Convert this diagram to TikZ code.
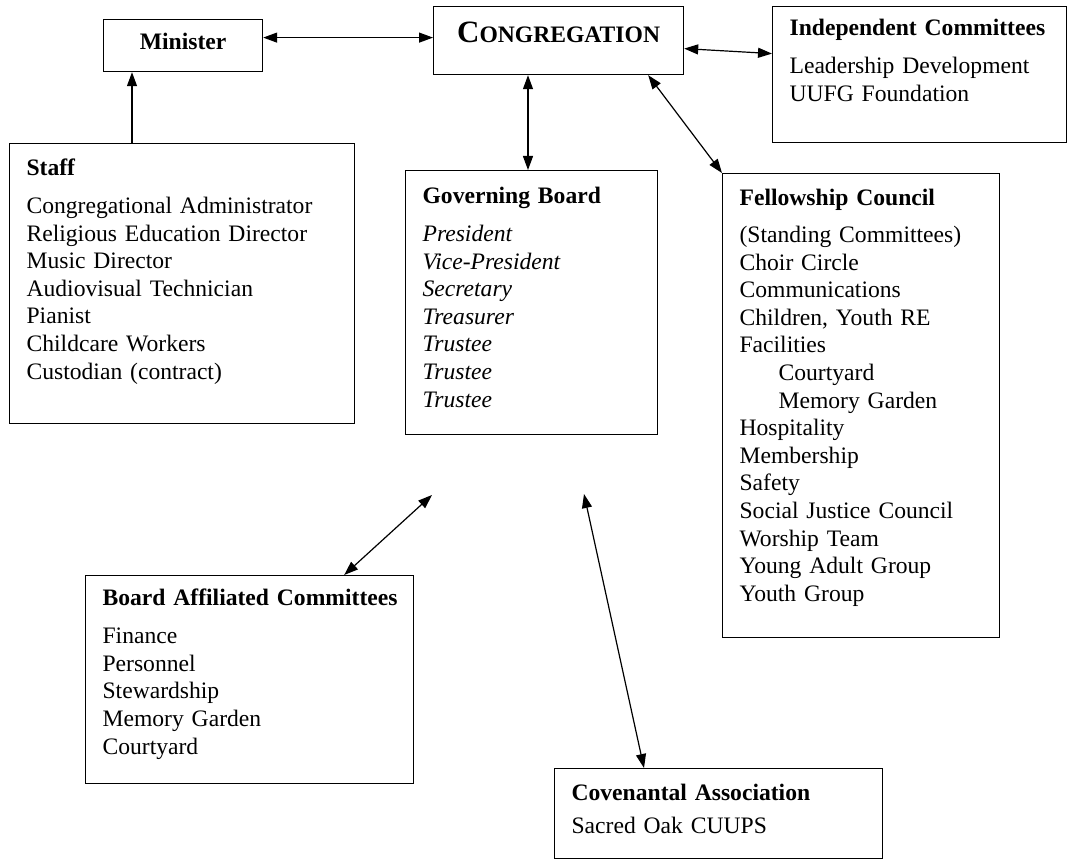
\documentclass[tikz,border=0pt]{standalone}
\usepackage{fontspec}
\setmainfont{Liberation Serif}
\usetikzlibrary{arrows.meta}
\begin{document}
\begin{tikzpicture}[x=1pt,y=-1pt,
  unit/.style={draw, line width=1.2pt, anchor=north west, inner xsep=17pt, inner ysep=0pt, align=left, font=\fontsize{23.6}{27.6}\selectfont},
  link/.style={line width=1.2pt, {Triangle[length=14pt,width=10pt]}-{Triangle[length=14pt,width=10pt]}},
  uplink/.style={line width=1.2pt, -{Triangle[length=14pt,width=10pt]}}]
\useasboundingbox (0,0) rectangle (1069,861);
\node [unit, inner xsep=0pt, minimum width=159pt, text height=30pt, text depth=22pt, align=center] (minister) at (103,19) {\textbf{Minister}};
\node [unit, inner xsep=0pt, minimum width=250pt, text height=36pt, text depth=32pt, align=center] (congregation) at (433,6)
  {\textbf{{\fontsize{31}{31}\selectfont C}ONGREGATION}};
\node [unit, text width=260pt, text height=29pt, text depth=107pt] (independent) at (772,6)
  {\mbox{\textbf{Independent Committees}}\\[10.4pt]
   Leadership Development\\
   UUFG Foundation};
\node [unit, text width=311pt, text height=32pt, text depth=248pt] (staff) at (9,143)
  {\textbf{Staff}\\[10.4pt]
   Congregational Administrator\\
   Religious Education Director\\
   Music Director\\
   Audiovisual Technician\\
   Pianist\\
   Childcare Workers\\
   Custodian (contract)};
\node [unit, text width=218pt, text height=33pt, text depth=231pt] (board) at (405,170)
  {\textbf{Governing Board}\\[10.4pt]
   \textit{President}\\
   \textit{Vice-President}\\
   \textit{Secretary}\\
   \textit{Treasurer}\\
   \textit{Trustee}\\
   \textit{Trustee}\\
   \textit{Trustee}};
\node [unit, text width=243pt, text height=32pt, text depth=432pt] (fellowship) at (722,173)
  {\textbf{Fellowship Council}\\[9.4pt]
   (Standing Committees)\\
   Choir Circle\\
   Communications\\
   Children, Youth RE\\
   Facilities\\
   \hspace*{39pt}Courtyard\\
   \hspace*{39pt}Memory Garden\\
   Hospitality\\
   Membership\\
   Safety\\
   Social Justice Council\\
   Worship Team\\
   Young Adult Group\\
   Youth Group};
\node [unit, text width=294pt, text height=30pt, text depth=178pt] (affiliated) at (85,575)
  {\mbox{\textbf{Board Affiliated Committees}}\\[10.4pt]
   Finance\\
   Personnel\\
   Stewardship\\
   Memory Garden\\
   Courtyard};
\node [unit, text width=294pt, text height=32pt, text depth=58pt] (covenant) at (554,768)
  {\textbf{Covenantal Association}\\[5.4pt]
   Sacred Oak CUUPS};
\coordinate (staffcol) at (132,0);
\coordinate (boardcol) at (528,0);
\coordinate (affilend) at (432,495);
\coordinate (covenantend) at (584,494);
\draw [link] ([yshift=8pt]minister.east) -- ([yshift=8pt]minister.east -| congregation.west);
\draw [uplink] (staffcol |- staff.north) -- (staffcol |- minister.south);
\draw [link] (boardcol |- congregation.south) -- (boardcol |- board.north);
\draw [link] ([yshift=-8pt]congregation.east) -- ([yshift=21pt]independent.west);
\draw [link] ([xshift=-36pt]congregation.south east) -- (fellowship.north west);
\draw [link] ([xshift=-70pt]affiliated.north east) -- (affilend);
\draw [link] ([xshift=90pt]covenant.north west) -- (covenantend);
\end{tikzpicture}
\end{document}
